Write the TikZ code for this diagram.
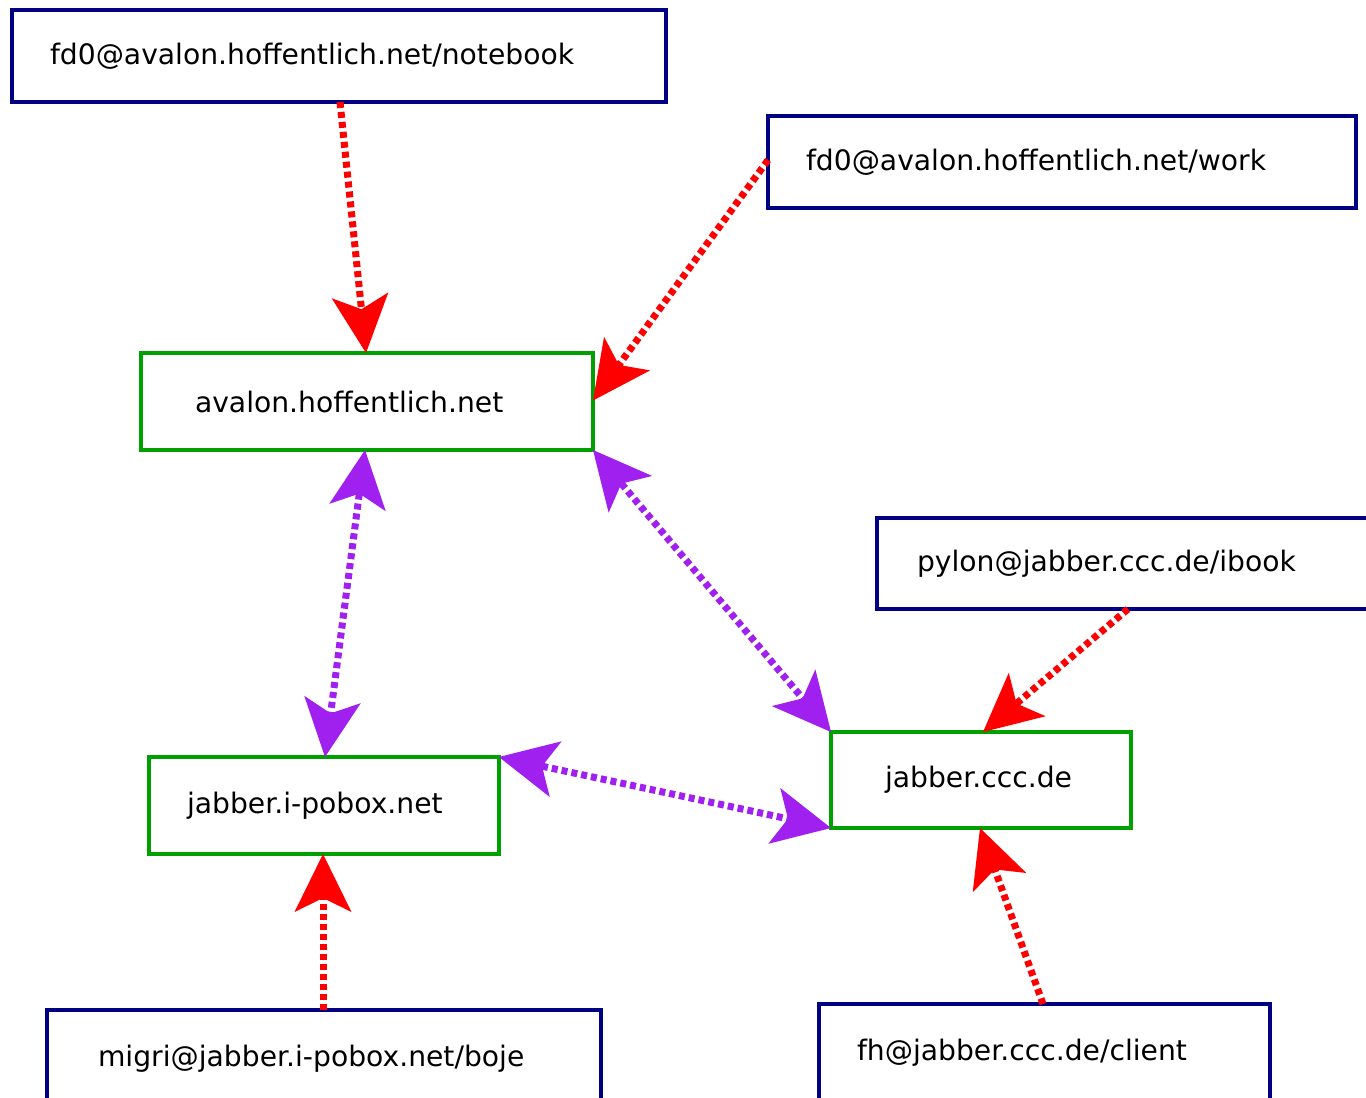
\documentclass[tikz,border=0pt]{standalone}
\usepackage{fontspec}
\setmainfont{DejaVu Sans}
\usetikzlibrary{arrows.meta}
\definecolor{navyc}{RGB}{0,0,128}
\definecolor{greenc}{RGB}{0,160,0}
\definecolor{purplec}{RGB}{160,32,240}
\definecolor{redc}{RGB}{255,0,0}
\begin{document}
\begin{tikzpicture}[x=1pt,y=-1pt,
  box/.style={draw, line width=4.5pt, anchor=north west, inner ysep=0pt, outer sep=0pt,
    align=left, font=\fontsize{28.2}{32}\selectfont},
  client/.style={box, draw=navyc},
  server/.style={box, draw=greenc},
  bigtip/.tip={Stealth[length=58pt,width=57pt,inset=14pt,line width=0pt]},
  redarr/.style={draw=redc, line width=7pt, dash pattern=on 6pt off 4pt, -bigtip},
  purarr/.style={draw=purplec, line width=7pt, dash pattern=on 6pt off 4pt, bigtip-bigtip}
]
\useasboundingbox[fill=white] (0,0) rectangle (1366,1098);

\node[client, minimum height=92pt, inner xsep=38pt, text width=578pt] (nb) at (12,10) {fd0@avalon.hoffentlich.net/notebook};
\node[client, minimum height=92pt, inner xsep=38pt, text width=512pt] (wk) at (768,116) {fd0@avalon.hoffentlich.net/work};
\node[server, minimum height=97pt, inner xsep=54pt, text width=344pt] (av) at (141,353) {avalon.hoffentlich.net};
\node[client, minimum height=91pt, inner xsep=40pt, text width=440pt] (py) at (877,518) {pylon@jabber.ccc.de/ibook};
\node[server, minimum height=96pt, inner xsep=54pt, text width=192pt] (jc) at (831,732) {jabber.ccc.de};
\node[server, minimum height=97pt, inner xsep=38pt, text width=274pt] (ip) at (149,757) {jabber.i-pobox.net};
\node[client, minimum height=98pt, inner xsep=51pt, text width=452pt] (mg) at (47,1010) {migri@jabber.i-pobox.net/boje};
\node[client, minimum height=98pt, inner xsep=38pt, text width=375pt] (fh) at (819,1004) {fh@jabber.ccc.de/client};

\draw[redarr] ([xshift=328pt]nb.south west) -- ([xshift=225pt]av.north west);
\draw[redarr] ([yshift=2pt]wk.west) -- ([yshift=1pt]av.east);
\draw[redarr] ([xshift=251pt]py.south west) -- ([xshift=152pt]jc.north west);
\draw[redarr] ([xshift=224pt]fh.north west) -- ([xshift=149pt]jc.south west);
\draw[redarr] ([xshift=276pt]mg.north west) -- ([xshift=174pt]ip.south west);

\draw[purarr] ([xshift=224pt]av.south west) -- ([xshift=176pt]ip.north west);
\draw[purarr] (av.south east) -- (jc.north west);
\draw[purarr] (ip.north east) -- (jc.south west);
\end{tikzpicture}
\end{document}
